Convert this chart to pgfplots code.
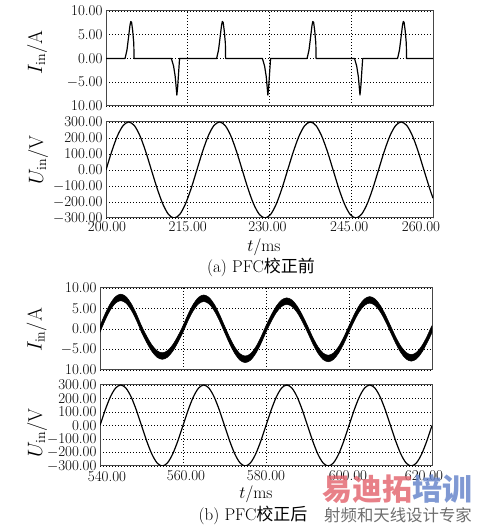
\documentclass[border=0pt]{standalone}
\usepackage{fontspec}
\usepackage{pgfplots}
\pgfplotsset{compat=1.18}
\newfontfamily\cjk{Noto Sans CJK SC}
\definecolor{wmred}{RGB}{226,96,106}
\definecolor{wmblue}{RGB}{96,128,200}
\definecolor{wmgray}{RGB}{110,110,110}
\definecolor{frame}{RGB}{70,70,70}

\pgfplotsset{
  panel/.style={scale only axis, anchor=south west,
    axis line style={draw=frame, line width=1pt},
    major tick length=0pt, grid=major,
    major grid style={black, line width=0.75pt, dash pattern=on 1.2pt off 1.8pt},
    tick label style={font=\fontsize{15}{16}\selectfont},
    xticklabel style={anchor=north},
    yticklabel style={anchor=east}},
  ipanel/.style={ymin=-10, ymax=10, ytick={-10,-5,0,5,10},
    yticklabels={10.00,$-$5.00,0.00,5.00,10.00}},
  upanel/.style={ymin=-300, ymax=300, ytick={-300,-200,-100,0,100,200,300},
    yticklabels={$-$300.00,$-$200.00,$-$100.00,0.00,100.00,200.00,300.00}},
  sig/.style={black, line width=1.2pt, line join=round, no marks},
}

\begin{document}
\begin{tikzpicture}
\path[use as bounding box] (0,0) rectangle (478pt,529pt);

% ---------- (a) I_in ----------
\begin{axis}[panel, ipanel, at={(106pt,423pt)}, width=327pt, height=95pt,
  xmin=200, xmax=260, xtick={200,215,230,245,260}, xticklabels={}]
\addplot[sig] coordinates {
(200,0) (203.50,0) (203.85,1.8) (204.15,4.6) (204.40,7.0) (204.55,7.8) (204.70,7.6) (204.90,5.8) (205.10,3.2) (205.15,0)
(212.00,0) (212.40,-1.6) (212.70,-3.8) (212.90,-6.4) (213.00,-7.7) (213.15,-6.0) (213.35,-2.5) (213.45,-0.8) (213.50,0)
(220.30,0) (220.65,1.8) (220.95,4.6) (221.20,7.0) (221.35,7.8) (221.50,7.6) (221.70,5.8) (221.90,3.2) (221.95,0)
(228.70,0) (229.10,-1.6) (229.40,-3.8) (229.60,-6.4) (229.70,-7.7) (229.85,-6.0) (230.05,-2.5) (230.15,-0.8) (230.20,0)
(236.90,0) (237.25,1.8) (237.55,4.6) (237.80,7.0) (237.95,7.8) (238.10,7.6) (238.30,5.8) (238.50,3.2) (238.55,0)
(245.60,0) (246.00,-1.6) (246.30,-3.8) (246.50,-6.4) (246.60,-7.7) (246.75,-6.0) (246.95,-2.5) (247.05,-0.8) (247.10,0)
(253.50,0) (253.85,1.8) (254.15,4.6) (254.40,7.0) (254.55,7.8) (254.70,7.6) (254.90,5.8) (255.10,3.2) (255.15,0)
(260,0)};
\end{axis}

% ---------- (a) U_in ----------
\begin{axis}[panel, upanel, at={(106pt,311pt)}, width=327pt, height=96pt,
  xmin=200, xmax=260, xtick={200,215,230,245,260},
  xticklabels={\hspace*{2pt}200.00,215.00,\hspace*{-4pt}230.00,\hspace*{-4pt}245.00,\hspace*{-24pt}260.00}]
\addplot[sig, smooth] table {
200.00 0
201.04 114.8
202.08 212.1
203.13 277.2
204.17 300
205.21 277.2
206.25 212.1
207.29 114.8
208.33 0
209.38 -114.8
210.42 -212.1
211.46 -277.2
212.50 -300
213.54 -277.2
214.58 -212.1
215.63 -114.8
216.67 0
217.71 114.8
218.75 212.1
219.79 277.2
220.83 300
221.88 277.2
222.92 212.1
223.96 114.8
225.00 0
226.04 -114.8
227.08 -212.1
228.13 -277.2
229.17 -300
230.21 -277.2
231.25 -212.1
232.29 -114.8
233.33 0
234.38 114.8
235.42 212.1
236.46 277.2
237.50 300
238.54 277.2
239.58 212.1
240.63 114.8
241.67 0
242.71 -114.8
243.75 -212.1
244.79 -277.2
245.83 -300
246.88 -277.2
247.92 -212.1
248.96 -114.8
250.00 0
251.04 114.8
252.08 212.1
253.13 277.2
254.17 300
255.21 277.2
256.25 212.1
257.29 114.8
258.33 0
259.38 -114.8
260.00 -176.3
};
\end{axis}

\node at (264pt,282pt) {\fontsize{17}{18}\selectfont $t$/ms};
\node at (261pt,262pt) {\fontsize{17}{18}\selectfont (a) PFC{\cjk 校正前}};

% ---------- (b) I_in ----------
\begin{axis}[panel, ipanel, at={(100pt,159pt)}, width=332pt, height=82pt,
  xmin=540, xmax=620, xtick={540,560,580,600,620}, xticklabels={}]
\addplot[black, fill=black, line width=0.5pt, line join=round, smooth] coordinates {
(540,0.80) (541.25,3.75) (542.5,6.24) (543.75,7.91) (545,8.50) (546.25,7.91) (547.5,6.24) (548.75,3.75)
(550,0.80) (551.25,-1.73) (552.5,-3.87) (553.75,-5.30) (555,-5.80) (556.25,-5.30) (557.5,-3.87) (558.75,-1.73)
(560,0.80) (561.25,3.67) (562.5,6.10) (563.75,7.73) (565,8.30) (566.25,7.73) (567.5,6.10) (568.75,3.67)
(570,0.80) (571.25,-2.03) (572.5,-4.43) (573.75,-6.04) (575,-6.60) (576.25,-6.04) (577.5,-4.43) (578.75,-2.03)
(580,0.80) (581.25,3.40) (582.5,5.61) (583.75,7.08) (585,7.60) (586.25,7.08) (587.5,5.61) (588.75,3.40)
(590,0.80) (591.25,-1.96) (592.5,-4.29) (593.75,-5.85) (595,-6.40) (596.25,-5.85) (597.5,-4.29) (598.75,-1.96)
(600,0.80) (601.25,3.52) (602.5,5.82) (603.75,7.36) (605,7.90) (606.25,7.36) (607.5,5.82) (608.75,3.52)
(610,0.80) (611.25,-1.90) (612.5,-4.19) (613.75,-5.71) (615,-6.25) (616.25,-5.71) (617.5,-4.19) (618.75,-1.90)
(620,0.80)
(620,-0.80) (618.75,-3.50) (617.5,-5.79) (616.25,-7.31) (615,-7.85) (613.75,-7.31) (612.5,-5.79) (611.25,-3.50)
(610,-0.80) (608.75,1.92) (607.5,4.22) (606.25,5.76) (605,6.30) (603.75,5.76) (602.5,4.22) (601.25,1.92)
(600,-0.80) (598.75,-3.56) (597.5,-5.89) (596.25,-7.45) (595,-8.00) (593.75,-7.45) (592.5,-5.89) (591.25,-3.56)
(590,-0.80) (588.75,1.80) (587.5,4.01) (586.25,5.48) (585,6.00) (583.75,5.48) (582.5,4.01) (581.25,1.80)
(580,-0.80) (578.75,-3.63) (577.5,-6.03) (576.25,-7.64) (575,-8.20) (573.75,-7.64) (572.5,-6.03) (571.25,-3.63)
(570,-0.80) (568.75,2.07) (567.5,4.50) (566.25,6.13) (565,6.70) (563.75,6.13) (562.5,4.50) (561.25,2.07)
(560,-0.80) (558.75,-3.33) (557.5,-5.47) (556.25,-6.90) (555,-7.40) (553.75,-6.90) (552.5,-5.47) (551.25,-3.33)
(550,-0.80) (548.75,2.15) (547.5,4.64) (546.25,6.31) (545,6.90) (543.75,6.31) (542.5,4.64) (541.25,2.15)
(540,-0.80)
} -- cycle;
\end{axis}

% ---------- (b) U_in ----------
\begin{axis}[panel, upanel, at={(100pt,63pt)}, width=332pt, height=81pt,
  xmin=540, xmax=620, xtick={540,560,580,600,620},
  xticklabel style={yshift=-1.5pt},
  xticklabels={\hspace*{14pt}540.00,\hspace*{6pt}560.00,580.00,\hspace*{-2pt}600.00,\hspace*{-16pt}620.00}]
\addplot[sig, smooth] table {
540.00 0
541.25 114.8
542.50 212.1
543.75 277.2
545.00 300
546.25 277.2
547.50 212.1
548.75 114.8
550.00 0
551.25 -114.8
552.50 -212.1
553.75 -277.2
555.00 -300
556.25 -277.2
557.50 -212.1
558.75 -114.8
560.00 0
561.25 114.8
562.50 212.1
563.75 277.2
565.00 300
566.25 277.2
567.50 212.1
568.75 114.8
570.00 0
571.25 -114.8
572.50 -212.1
573.75 -277.2
575.00 -300
576.25 -277.2
577.50 -212.1
578.75 -114.8
580.00 0
581.25 114.8
582.50 212.1
583.75 277.2
585.00 300
586.25 277.2
587.50 212.1
588.75 114.8
590.00 0
591.25 -114.8
592.50 -212.1
593.75 -277.2
595.00 -300
596.25 -277.2
597.50 -212.1
598.75 -114.8
600.00 0
601.25 114.8
602.50 212.1
603.75 277.2
605.00 300
606.25 277.2
607.50 212.1
608.75 114.8
610.00 0
611.25 -114.8
612.50 -212.1
613.75 -277.2
615.00 -300
616.25 -277.2
617.50 -212.1
618.75 -114.8
620.00 0
};
\end{axis}

% y axis labels
\node[rotate=90] at (37pt,476.5pt) {\fontsize{20}{22}\selectfont $I_{\mathrm{in}}$/A};
\node[rotate=90] at (38pt,369pt) {\fontsize{20}{22}\selectfont $U_{\mathrm{in}}$/V};
\node[rotate=90] at (36.5pt,199pt) {\fontsize{20}{22}\selectfont $I_{\mathrm{in}}$/A};
\node[rotate=90] at (37pt,96pt) {\fontsize{20}{22}\selectfont $U_{\mathrm{in}}$/V};

\node at (256pt,35pt) {\fontsize{17}{18}\selectfont $t$/ms};
\node at (253pt,14pt) {\fontsize{17}{18}\selectfont (b) PFC{\cjk 校正后}};

% watermark
\node[anchor=west, inner sep=0pt, text opacity=0.8] at (322pt,40pt)
  {\cjk\bfseries\fontsize{30}{30}\selectfont{\color{wmred}易迪拓}{\color{wmblue}培训}};
\node[anchor=west, inner sep=0pt, text=wmgray] at (324pt,14pt)
  {\cjk\fontsize{16.4}{17}\selectfont 射频和天线设计专家};
\end{tikzpicture}
\end{document}
